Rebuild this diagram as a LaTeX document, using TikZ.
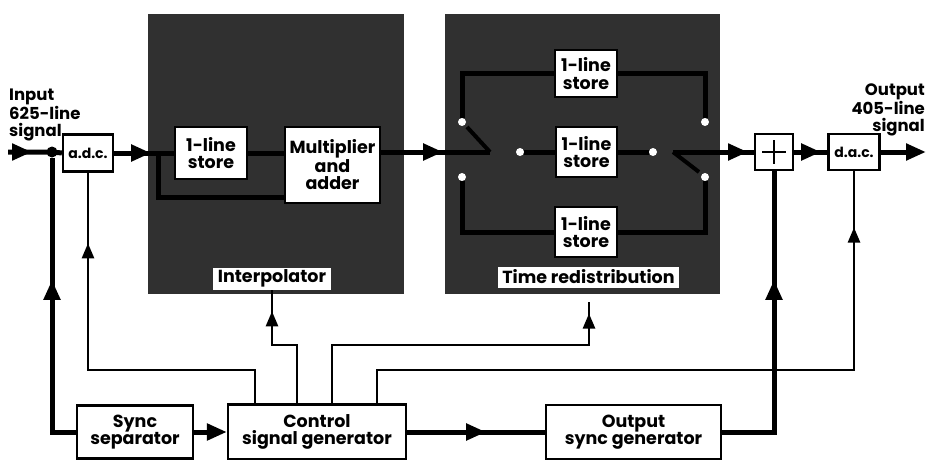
\documentclass[tikz,border=0pt]{standalone}
\usepackage{fontspec}
\setmainfont{Poppins}
\usetikzlibrary{arrows.meta,decorations.markings,calc}
\definecolor{panelgray}{RGB}{48,48,48}
\begin{document}
\begin{tikzpicture}[x=1pt,y=-1pt,
  txt/.style={font=\bfseries\fontsize{17.5}{17.5}\selectfont},
  box/.style={txt, draw=black, line width=2.2pt, fill=white, inner sep=0pt, align=center},
  lbl/.style={txt, fill=white, inner sep=0pt, align=center},
  small/.style={font=\bfseries\fontsize{14}{16}\selectfont},
  side/.style={font=\bfseries\fontsize{16.5}{17}\selectfont, inner sep=0pt},
  panel/.style={fill=panelgray, draw=none, inner sep=0pt},
  sig/.style={line width=5pt, draw=black},
  ctl/.style={line width=2.4pt, draw=black},
  tipat/.style={postaction={decorate}, decoration={markings, mark=at position #1 with {\arrow{Triangle[length=20pt,width=16pt]}}}},
  ctip/.style={postaction={decorate}, decoration={markings, mark=at position #1 with {\arrow{Triangle[length=15pt,width=12pt]}}}},
  wdot/.style={circle, fill=white, inner sep=0pt, minimum size=8pt},
  bdot/.style={circle, fill=black, inner sep=0pt, minimum size=11pt}
]
\useasboundingbox (0,0) rectangle (926,460);

% panels
\node[panel, minimum width=256pt, minimum height=280pt] (pI) at (276,154) {};
\node[panel, minimum width=275pt, minimum height=280pt] (pT) at (582.5,154) {};

% texts
\node[side, anchor=north west, align=left] (intxt) at (9,89) {Input\\625-line\\signal};
\node[side, anchor=north east, align=right] (outtxt) at (925,84) {Output\\405-line\\signal};

% boxes
\node[box, small, minimum width=50pt, minimum height=37pt] (adc) at (88,153) {a.d.c.};
\node[box, minimum width=72pt, minimum height=52pt] (st1) at (211,153) {1-line\\store};
\node[box, minimum width=95pt, minimum height=76pt] (mult) at (332.5,165) {Multiplier\\and\\adder};
\node[lbl, minimum width=118pt, minimum height=22pt] (ilabel) at (272,278.5) {Interpolator};

\node[box, minimum width=62pt, minimum height=47pt] (stT) at (586,73.5) {1-line\\store};
\node[box, minimum width=61pt, minimum height=50pt] (stM) at (586.5,152) {1-line\\store};
\node[box, minimum width=62pt, minimum height=50pt] (stB) at (586,232) {1-line\\store};
\node[lbl, minimum width=181pt, minimum height=21pt] (tlabel) at (588.5,277) {Time redistribution};

\node[box, minimum width=38pt, minimum height=36pt] (add) at (774,152) {};
\draw[line width=2.4pt] ($(add.center)+(-12,0)$) -- ($(add.center)+(12,0)$)
                        ($(add.center)+(0,-12)$) -- ($(add.center)+(0,12)$);
\node[box, small, minimum width=51pt, minimum height=36pt] (dac) at (854,152) {d.a.c.};

\node[box, minimum width=116pt, minimum height=53pt] (sync) at (135,432) {Sync\\separator};
\node[box, minimum width=178pt, minimum height=55pt] (ctrl) at (317,432) {Control\\signal generator};
\node[box, minimum width=175pt, minimum height=54pt] (osync) at (633.5,432) {Output\\sync generator};

% coordinates
\coordinate (in) at (8,152);
\coordinate (out) at (926,152);
\coordinate (PL) at (490,152);
\coordinate (PR) at (673,152);
\coordinate (bladeL) at (467,127);
\coordinate (bladeR) at (699,172);
\coordinate (tend) at (589,302);
\node[wdot] (TL) at (462,122) {};
\node[wdot] (BL) at (462,177) {};
\node[wdot] (TR) at (705,122) {};
\node[wdot] (BR) at (705,177) {};
\node[wdot] (ML) at (520,152) {};
\node[wdot] (MR) at (653,152) {};

% main signal path
\draw[sig, tipat=24pt] (in) -- (52,152) -- (adc.west);
\node[bdot] (J) at (52,152) {};
\draw[sig, tipat=37pt] (adc.east) -- (st1.west);
\draw[sig] (st1.east) -- (st1.east -| mult.west);
\draw[sig] (158,152) |- (mult.west |- 0,197);
\draw[sig, tipat=62pt] (mult.east |- 0,152) -- (PL);
\draw[sig, line width=4pt] (PL) -- (bladeL);
\draw[sig] (ML) -- (stM.west);
\draw[sig] (stM.east) -- (MR);
\draw[sig] (TL) |- (stT.west);
\draw[sig] (stT.east) -| (TR);
\draw[sig] (BL) |- (stB.west);
\draw[sig] (stB.east) -| (BR);
\draw[sig, line width=4pt] (PR) -- (bladeR);
\draw[sig, tipat=75pt] (PR) -- (add.west);
\draw[sig, tipat=27pt] (add.east) -- (dac.west);
\draw[sig, -{Triangle[length=20pt,width=16pt]}] (dac.east) -- (out);

% bottom thick paths
\draw[sig, tipat=176pt] (sync.west) -| (J);
\draw[sig, -{Triangle[length=20pt,width=16pt]}] (sync.east) -- (ctrl.west);
\draw[sig, tipat=79pt] (ctrl.east) -- (osync.west);
\draw[sig, tipat=204pt] (osync.east) -| (add.south);

% control lines
\coordinate (c1) at ($(ctrl.north west)+(28,0)$);
\coordinate (c2) at ($(ctrl.north west)+(70,0)$);
\coordinate (c3) at ($(ctrl.north west)+(105,0)$);
\coordinate (c4) at ($(ctrl.north west)+(150,0)$);
\draw[ctl, ctip=327pt] (c1) |- (88,370) -- (adc.south);
\draw[ctl, ctip=117pt] (c2) |- (272,345) -- (ilabel.south);
\draw[ctl, ctip=347pt] (c3) |- (589,345) -- (tend);
\draw[ctl, ctip=653pt] (c4) |- (854,370) -- (dac.south);
\end{tikzpicture}
\end{document}
